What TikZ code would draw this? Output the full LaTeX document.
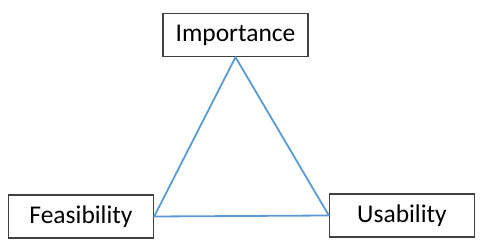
\documentclass[tikz,border=0pt]{standalone}
\usepackage{fontspec}
\setmainfont{Carlito}
\usepackage{xcolor}
\usetikzlibrary{positioning}
\definecolor{lineblue}{RGB}{91,155,213}
\definecolor{boxgray}{RGB}{64,64,64}

\begin{document}
\begin{tikzpicture}[>=latex, x=1pt, y=-1pt,
    criterion/.style={draw=boxgray, line width=1.3pt, fill=white, minimum width=145pt,
        minimum height=43pt, inner sep=0pt, font=\fontsize{25.5}{29}\selectfont}]
    \useasboundingbox (0,0) rectangle (483,251);
    % 1. Các ô tiêu chí
    \node[criterion] (imp) at (235.5,35) {Importance};
    \node[criterion] (fea) at (81,216.5) {Feasibility};
    \node[criterion] (usa) at (402,215.5) {Usability};
    % 2. Tam giác nối các ô
    \draw[lineblue, line width=1.8pt, line join=round]
        (imp.south) -- (fea.east) -- (usa.west) -- cycle;
\end{tikzpicture}
\end{document}
